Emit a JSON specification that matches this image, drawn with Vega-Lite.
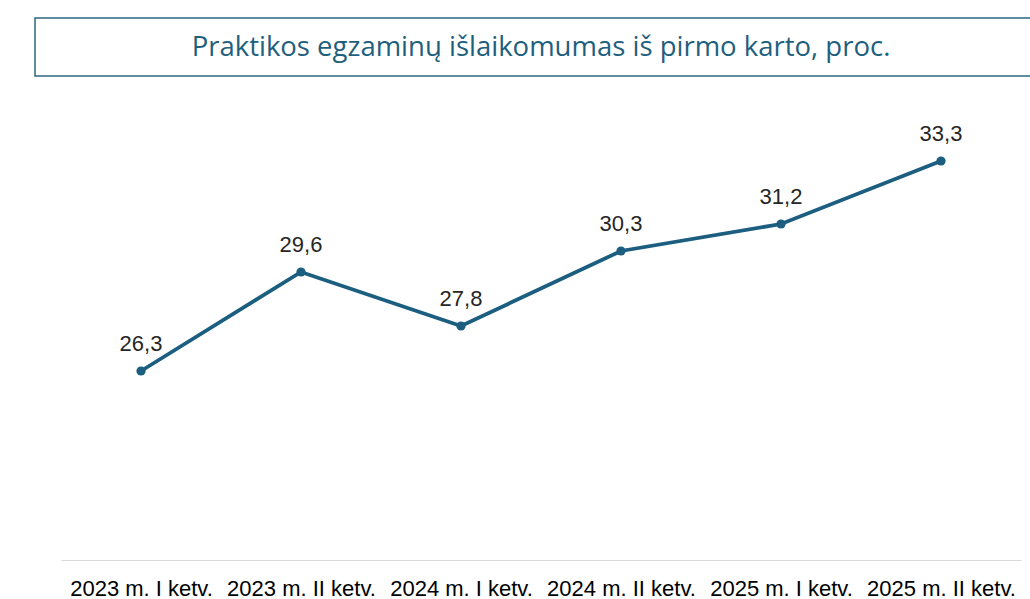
{
  "$schema": "https://vega.github.io/schema/vega-lite/v6.json",
  "padding": {"left": 34, "top": 17, "right": 0, "bottom": 0},
  "background": "white",
  "spacing": 33,
  "config": {
    "locale": {"number": {"decimal": ",", "thousands": " ", "grouping": [3], "currency": ["", " €"]}},
    "view": {"stroke": null},
    "font": "Liberation Sans"
  },
  "datasets": {
    "series": [
      {"period": "2023 m. I ketv.", "value": 26.3},
      {"period": "2023 m. II ketv.", "value": 29.6},
      {"period": "2024 m. I ketv.", "value": 27.8},
      {"period": "2024 m. II ketv.", "value": 30.3},
      {"period": "2025 m. I ketv.", "value": 31.2},
      {"period": "2025 m. II ketv.", "value": 33.3}
    ],
    "heading": [
      {"title": "Praktikos egzaminų išlaikomumas iš pirmo karto, proc."}
    ]
  },
  "vconcat": [
    {
      "width": 1012,
      "height": 58,
      "view": {"stroke": "#2C6780", "strokeWidth": 1.5},
      "data": {"name": "heading"},
      "mark": {"type": "text", "font": "Open Sans", "fontSize": 27.5, "color": "#1F5F7E", "baseline": "middle", "align": "center", "dy": 1},
      "encoding": {
        "text": {"field": "title", "type": "nominal"}
      }
    },
    {
      "width": 1000,
      "height": 450,
      "data": {"name": "series"},
      "encoding": {
        "x": {
          "field": "period",
          "type": "ordinal",
          "sort": null,
          "scale": {"type": "point", "range": [26, 986], "padding": 0.5},
          "axis": {
            "title": null,
            "labelAngle": 0,
            "ticks": false,
            "grid": false,
            "domainColor": "#D9D9D9",
            "domainWidth": 1,
            "labelFont": "Liberation Sans",
            "labelFontSize": 22,
            "labelColor": "#000000",
            "labelPadding": 18,
            "labelOverlap": false
          }
        },
        "y": {
          "field": "value",
          "type": "quantitative",
          "scale": {"domain": [20, 35], "zero": false, "nice": false},
          "axis": null
        }
      },
      "layer": [
        {"mark": {"type": "line", "color": "#1B5E80", "strokeWidth": 3.8}},
        {"mark": {"type": "point", "filled": true, "color": "#1B5E80", "size": 85, "opacity": 1}},
        {
          "mark": {"type": "text", "fontSize": 22, "color": "#262626", "baseline": "middle", "dy": -27},
          "encoding": {"text": {"field": "value", "type": "quantitative", "format": ".1f"}}
        }
      ]
    }
  ]
}
